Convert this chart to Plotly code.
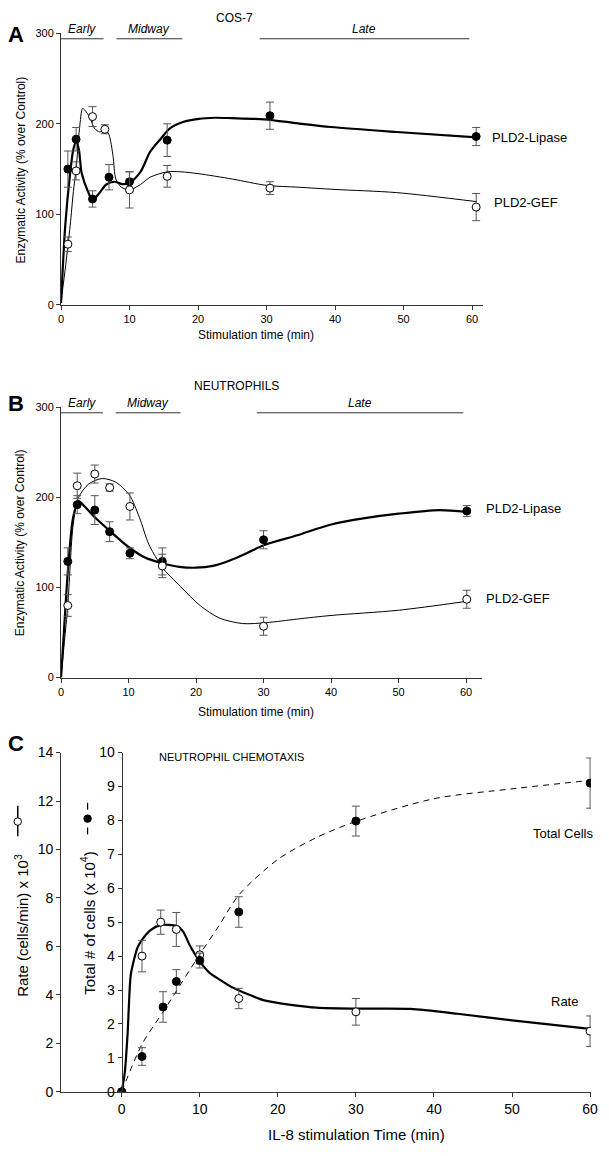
import plotly.graph_objects as go

W, H = 609, 1156
FONT = "Arial, Liberation Sans, sans-serif"

# ---------------- Panel A: COS-7 ----------------
a_time_lipase = [1, 2.2, 4.6, 7, 10, 15.5, 30.5, 60.6]
a_lipase = [150, 183, 117, 141, 136, 182, 209, 186]
a_lipase_err = [20, 13, 9, 14, 11, 18, 15, 10]
a_time_gef = [1, 2.2, 4.6, 6.4, 10, 15.5, 30.5, 60.6]
a_gef = [67, 148, 208, 194, 127, 142, 129, 108]
a_gef_err = [8, 10, 11, 5, 20, 12, 7, 15]
# fitted curves
a_lipase_fit_x = [0, 0.62, 1.34, 1.8, 2.2, 2.6, 3.0, 4.0, 4.6, 5.65, 6.6, 7.8, 9.0, 10.0, 11.6, 13.0, 14.5,
                  15.9, 17.8, 20.1, 22.5, 24.9, 29.7, 34.6, 39.4, 49, 60.7]
a_lipase_fit_y = [2, 88, 146, 172, 180, 172, 146, 124, 116, 124, 133, 136, 133.4, 135, 147, 169, 183,
                  195, 202, 205.5, 206.7, 206.3, 205, 200.5, 196.5, 191, 185]
a_gef_fit_x = [0, 0.7, 1.34, 1.8, 2.2, 2.7, 3.16, 3.7, 4.2, 4.9, 5.65, 6.4, 7.0, 7.6, 8.0, 8.8, 10.0,
               11.6, 13.0, 15.5, 17.5, 20, 25, 30, 34.6, 40, 49, 60.7]
a_gef_fit_y = [3, 45, 88, 125, 150, 195, 217, 213, 207, 195, 191, 194, 188, 164, 139, 130, 127,
               133, 141, 147, 147, 145, 139, 132, 130, 127.5, 124, 114]

# ---------------- Panel B: Neutrophils ----------------
b_time = [1, 2.4, 5, 7.2, 10.2, 15, 30, 60.1]
b_lipase = [129, 192, 186, 162, 138, 129, 153, 185]
b_lipase_err = [15, 10, 16, 11, 6, 15, 10, 6]
b_gef = [80, 213, 226, 211, 190, 124, 57, 87]
b_gef_err = [12, 14, 10, 4, 15, 13, 10, 10]
b_lipase_fit_x = [0, 0.5, 1.1, 1.8, 2.6, 3.5, 5, 7.2, 10, 12.5, 15, 17.5, 20, 22.5, 25, 27.5, 30,
                  35, 40, 45, 50, 56, 60.1]
b_lipase_fit_y = [0, 60, 127, 178, 196, 190, 178, 163, 145, 133, 127, 123, 122, 124, 130, 138, 147,
                  158, 170, 177, 182, 186, 184]
b_gef_fit_x = [0, 0.5, 1, 1.8, 2.6, 4.1, 6.1, 8.1, 10.1, 11.6, 13, 14.5, 15, 17.7, 20.6, 23.5, 26.9,
               30.4, 35, 40, 50, 60.1]
b_gef_fit_y = [0, 40, 80, 170, 200, 215, 221, 217, 203, 178, 148, 128, 122, 101, 80, 66, 60,
               61, 65, 69, 74.8, 84.7]

# period bars
period_labels = ["Early", "Midway", "Late"]
period_start = [0, 8.1, 29]
period_end = [6.2, 17.7, 59.6]

# ---------------- Panel C: Neutrophil chemotaxis ----------------
c_time_rate = [0, 2.6, 5, 7, 10, 15, 30, 60]
c_rate = [0, 5.6, 7.0, 6.7, 5.65, 3.85, 3.3, 2.5]
c_rate_err = [0, 0.65, 0.5, 0.7, 0.37, 0.42, 0.55, 0.63]
c_time_total = [0, 2.6, 5.3, 7, 10, 15, 30, 60]
c_total = [0, 1.04, 2.5, 3.25, 3.87, 5.3, 7.98, 9.1]
c_total_err = [0, 0.26, 0.45, 0.35, 0.22, 0.45, 0.44, 0.74]
c_rate_fit_x = [0, 0.4, 0.76, 1.17, 2.0, 2.6, 3.7, 4.95, 7.05, 7.9, 8.7, 10, 11.25, 12.5, 14.2, 18.4,
                25, 30, 37, 43, 50, 60]
c_rate_fit_y = [0, 0.8, 2.4, 4.84, 5.93, 6.27, 6.67, 6.88, 6.85, 6.6, 6.06, 5.38, 4.91, 4.64, 4.3, 3.76,
                3.47, 3.43, 3.42, 3.22, 2.95, 2.6]
c_total_fit_x = [0, 2.6, 5.4, 10, 12.5, 15, 20, 25, 30, 40, 50, 60]
c_total_fit_y = [0, 1.4, 2.39, 4.05, 4.91, 5.8, 6.85, 7.5, 7.97, 8.64, 8.93, 9.18]


def px(x):
    return x / W


def py(y):
    return 1 - y / H


AXC = "#333"
ERRC = "#555"

fig = go.Figure()


def add_series(xs, ys, errs, xa, ya, filled):
    fig.add_trace(go.Scatter(
        x=xs, y=ys, xaxis=xa, yaxis=ya, mode="markers", showlegend=False,
        marker=dict(size=8, color="black" if filled else "white",
                    line=dict(color="black", width=1)),
        error_y=dict(type="data", array=errs, visible=True, color=ERRC, thickness=1, width=4),
    ))


def add_fit(xs, ys, xa, ya, width, dash="solid", smoothing=0.8):
    fig.add_trace(go.Scatter(
        x=xs, y=ys, xaxis=xa, yaxis=ya, mode="lines", showlegend=False, hoverinfo="skip",
        line=dict(color="black", width=width, shape="spline", smoothing=smoothing, dash=dash),
    ))


# Panel A
add_fit(a_gef_fit_x, a_gef_fit_y, "x", "y", 1.0)
add_fit(a_lipase_fit_x, a_lipase_fit_y, "x", "y", 2.2)
add_series(a_time_lipase, a_lipase, a_lipase_err, "x", "y", True)
add_series(a_time_gef, a_gef, a_gef_err, "x", "y", False)

# Panel B
add_fit(b_gef_fit_x, b_gef_fit_y, "x2", "y2", 1.0)
add_fit(b_lipase_fit_x, b_lipase_fit_y, "x2", "y2", 2.2)
add_series(b_time, b_lipase, b_lipase_err, "x2", "y2", True)
add_series(b_time, b_gef, b_gef_err, "x2", "y2", False)

# Panel C
add_fit(c_rate_fit_x, c_rate_fit_y, "x3", "y3", 2.2, smoothing=0.6)
add_fit(c_total_fit_x, c_total_fit_y, "x3", "y4", 1.0, dash="6px,5px")
add_series(c_time_rate, c_rate, c_rate_err, "x3", "y3", False)
add_series(c_time_total, c_total, c_total_err, "x3", "y4", True)

axis_common = dict(showline=True, linecolor=AXC, linewidth=1, ticks="outside", ticklen=4,
                   tickcolor=AXC, showgrid=False, zeroline=False, mirror=False,
                   tickfont=dict(family=FONT, size=11, color="black"))
big_ticks = {**axis_common, "tickfont": dict(family=FONT, size=14, color="black")}

fig.update_layout(
    width=W, height=H, margin=dict(l=0, r=0, t=0, b=0),
    paper_bgcolor="white", plot_bgcolor="white",
    font=dict(family=FONT, color="black"),
    xaxis=dict(domain=[px(59), px(488)], range=[0, 61.6], anchor="y",
               tickvals=[0, 10, 20, 30, 40, 50, 60], **axis_common),
    yaxis=dict(domain=[py(301), py(25.7)], range=[0, 300], anchor="x",
               tickvals=[0, 100, 200, 300], **axis_common),
    xaxis2=dict(domain=[px(59), px(487.3)], range=[0, 62.4], anchor="y2",
                tickvals=[0, 10, 20, 30, 40, 50, 60], **axis_common),
    yaxis2=dict(domain=[py(679), py(405)], range=[0, 300], anchor="x2",
                tickvals=[0, 100, 200, 300], **axis_common),
    xaxis3=dict(domain=[px(59), px(597.7)], range=[-7.77, 60.1], anchor="y3",
                tickvals=[0, 10, 20, 30, 40, 50, 60], **big_ticks),
    yaxis3=dict(domain=[py(1099), py(755)], range=[0, 14], anchor="x3",
                tickvals=list(range(0, 15, 2)), **big_ticks),
    yaxis4=dict(range=[0, 10], overlaying="y3", anchor="free", position=px(120.7), side="left",
                tickvals=list(range(0, 11)), **big_ticks),
)

# period bars for panels A and B
for xa, ya in (("x", "y"), ("x2", "y2")):
    for lab, s, e in zip(period_labels, period_start, period_end):
        fig.add_shape(type="line", xref=xa, yref=ya, x0=s, x1=e, y0=294, y1=294,
                      line=dict(color=AXC, width=1))
        fig.add_annotation(xref=xa, yref=ya, x=(s + e) / 2, y=294, yanchor="bottom", yshift=1,
                           text=f"<i>{lab}</i>", showarrow=False,
                           font=dict(family=FONT, size=12, color="black"))


def text(x, y, t, size, xanchor="center", angle=0, bold=False):
    if bold:
        t = f"<b>{t}</b>"
    fig.add_annotation(xref="paper", yref="paper", x=px(x), y=py(y), text=t, showarrow=False,
                       xanchor=xanchor, yanchor="middle", textangle=angle,
                       font=dict(family=FONT, size=size, color="black"))


# panel letters & titles
text(13, 27, "A", 22, bold=True)
text(235, 10, "COS-7", 12)
text(13, 401, "B", 22, bold=True)
text(237, 383, "NEUTROPHILS", 12)
text(13, 746, "C", 22, bold=True)
text(232, 760, "NEUTROPHIL CHEMOTAXIS", 11)

# axis titles
text(257, 332, "Stimulation time (min)", 12)
text(18, 164, "Enzymatic Activity (% over Control)", 12, angle=-90)
text(257, 714, "Stimulation time (min)", 12)
text(18, 542, "Enzymatic Activity (% over Control)", 12, angle=-90)
text(359, 1142, "IL-8 stimulation Time (min)", 15)
text(18, 930, "Rate (cells/min) x 10<sup>3</sup>", 15, angle=-90)
text(86, 928, "Total # of cells (x 10<sup>4</sup>)", 15, angle=-90)


# key glyphs beside the C axis titles (paper coords)
def pline(x0, y0, x1, y1, w=1.5):
    fig.add_shape(type="line", xref="paper", yref="paper", x0=px(x0), y0=py(y0), x1=px(x1), y1=py(y1),
                  line=dict(color="black", width=w))


def pcircle(cx, cy, r, filled):
    fig.add_shape(type="circle", xref="paper", yref="paper",
                  x0=px(cx - r), x1=px(cx + r), y0=py(cy + r), y1=py(cy - r),
                  fillcolor="black" if filled else "white", line=dict(color="black", width=1))


pline(15, 809, 15, 840)
pcircle(15, 825, 3.8, False)
pline(86, 806, 86, 813, 1.2)
pline(86, 831, 86, 838, 1.2)
pcircle(86, 822, 3.8, True)

# series labels
text(495, 131, "PLD2-Lipase", 13, xanchor="left")
text(497, 197, "PLD2-GEF", 13, xanchor="left")
text(489, 508, "PLD2-Lipase", 13, xanchor="left")
text(489, 599, "PLD2-GEF", 13, xanchor="left")
text(602, 837, "Total Cells", 13, xanchor="right")
text(571, 1007, "Rate", 13)

fig.write_html("out.html", config={"displayModeBar": False},
               post_script="document.body.style.margin='0';document.body.style.padding='0';")
